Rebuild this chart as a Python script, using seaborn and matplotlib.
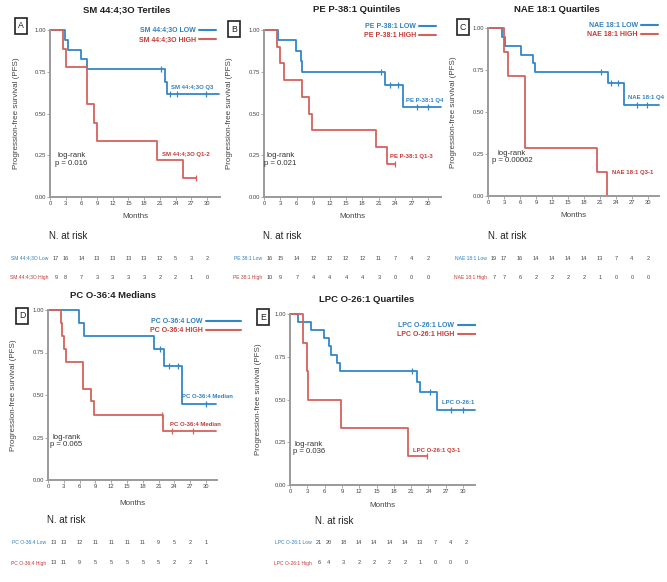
import numpy as np
import pandas as pd
import matplotlib
matplotlib.use("Agg")
import matplotlib.pyplot as plt
import seaborn as sns
from matplotlib.lines import Line2D
from matplotlib.patches import Rectangle

# ---------------- data ----------------
A_title = "SM 44:4;3O Tertiles"
A_low_t = [0, 2.9, 3.5, 5.9, 7.1, 22.0, 22.4, 32.3]
A_low_s = [1, 0.941, 0.882, 0.824, 0.765, 0.69, 0.614, 0.614]
A_low_c = [21.3, 22.9, 24.2, 29.9]
A_high_t = [0, 2.5, 3.0, 7.0, 8.5, 8.9, 20.4, 25.4, 28.0]
A_high_s = [1, 0.889, 0.778, 0.556, 0.444, 0.333, 0.222, 0.111, 0.111]
A_high_c = [28.0]
A_legend = ["SM 44:4;3O LOW", "SM 44:4;3O HIGH"]
A_ends = ["SM 44:4;3O Q3", "SM 44:4;3O Q1-2"]
A_p = "log-rank\np = 0.016"
A_risk_names = ["SM 44:4;3O Low", "SM 44:4;3O High"]
A_risk_low = [17, 16, 14, 13, 13, 13, 13, 12, 5, 3, 2]
A_risk_high = [9, 8, 7, 3, 3, 3, 3, 2, 2, 1, 0]

B_title = "PE P-38:1 Quintiles"
B_low_t = [0, 2.6, 5.9, 6.7, 6.95, 22.1, 25.5, 32.4]
B_low_s = [1, 0.9375, 0.875, 0.8125, 0.75, 0.67, 0.536, 0.536]
B_low_c = [21.5, 23.0, 24.5, 28.0, 30.0]
B_high_t = [0, 2.4, 3.0, 3.65, 7.0, 8.2, 8.8, 20.5, 22.5, 23.9]
B_high_s = [1, 0.9, 0.8, 0.7, 0.6, 0.5, 0.4, 0.3, 0.2, 0.2]
B_high_c = [23.9]
B_legend = ["PE P-38:1 LOW", "PE P-38:1 HIGH"]
B_ends = ["PE P-38:1 Q4", "PE P-38:1 Q1-3"]
B_p = "log-rank\np = 0.021"
B_risk_names = ["PE 38:1 Low", "PE 38:1 High"]
B_risk_low = [16, 15, 14, 12, 12, 12, 12, 11, 7, 4, 2]
B_risk_high = [10, 9, 7, 4, 4, 4, 4, 3, 0, 0, 0]

C_title = "NAE 18:1 Quartiles"
C_low_t = [0, 2.6, 3.1, 6.15, 8.5, 8.9, 22.6, 25.5, 32.1]
C_low_s = [1, 0.947, 0.895, 0.842, 0.789, 0.737, 0.67, 0.54, 0.54]
C_low_c = [21.2, 23.1, 24.4, 27.9, 29.9]
C_high_t = [0, 3.0, 3.8, 6.9, 20.5, 22.4]
C_high_s = [1, 0.857, 0.714, 0.286, 0.143, 0.0]
C_high_c = []
C_legend = ["NAE 18:1 LOW", "NAE 18:1 HIGH"]
C_ends = ["NAE 18:1 Q4", "NAE 18:1 Q3-1"]
C_p = "log-rank\np = 0.00062"
C_risk_names = ["NAE 18:1 Low", "NAE 18:1 High"]
C_risk_low = [19, 17, 16, 14, 14, 14, 14, 13, 7, 4, 2]
C_risk_high = [7, 7, 6, 2, 2, 2, 2, 1, 0, 0, 0]

D_title = "PC O-36:4 Medians"
D_low_t = [0, 5.8, 6.8, 20.1, 22.0, 25.4, 32.0]
D_low_s = [1, 0.923, 0.846, 0.769, 0.67, 0.447, 0.447]
D_low_c = [21.3, 23.0, 24.6, 30.0]
D_high_t = [0, 2.4, 2.7, 3.0, 3.5, 6.7, 8.1, 8.7, 21.9, 32.0]
D_high_s = [1, 0.923, 0.846, 0.769, 0.692, 0.538, 0.462, 0.385, 0.288, 0.288]
D_high_c = [21.6, 23.5, 27.5]
D_legend = ["PC O-36:4 LOW", "PC O-36:4 HIGH"]
D_ends = ["PC O-36:4 Median", "PC O-36:4 Median"]
D_p = "log-rank\np = 0.065"
D_risk_names = ["PC O-36:4 Low", "PC O-36:4 High"]
D_risk_low = [13, 13, 12, 11, 11, 11, 11, 9, 5, 2, 1]
D_risk_high = [13, 11, 9, 5, 5, 5, 5, 5, 2, 2, 1]

E_title = "LPC O-26:1 Quartiles"
E_low_t = [0, 1.3, 3.65, 5.9, 6.8, 7.1, 8.2, 8.6, 22.0, 22.6, 25.5, 32.1]
E_low_s = [1, 0.952, 0.905, 0.857, 0.81, 0.762, 0.714, 0.667, 0.604, 0.545, 0.44, 0.44]
E_low_c = [21.1, 24.3, 27.9, 30.0]
E_high_t = [0, 2.3, 2.9, 3.2, 8.8, 20.4, 23.7]
E_high_s = [1, 0.833, 0.667, 0.5, 0.333, 0.167, 0.167]
E_high_c = [23.7]
E_legend = ["LPC O-26:1 LOW", "LPC O-26:1 HIGH"]
E_ends = ["LPC O-26:1 Q4", "LPC O-26:1 Q3-1"]
E_p = "log-rank\np = 0.036"
E_risk_names = ["LPC O-26:1 Low", "LPC O-26:1 High"]
E_risk_low = [21, 20, 18, 14, 14, 14, 14, 13, 7, 4, 2]
E_risk_high = [6, 4, 3, 2, 2, 2, 2, 1, 0, 0, 0]

risk_months = [0, 3, 6, 9, 12, 15, 18, 21, 24, 27, 30]
x_ticks = [0, 3, 6, 9, 12, 15, 18, 21, 24, 27, 30]
y_ticks = [0.0, 0.25, 0.5, 0.75, 1.0]
letters = ["A", "B", "C", "D", "E"]

# ---------------- style ----------------
sns.set_theme(style="white")
plt.rcParams["font.family"] = ["Liberation Sans Narrow", "DejaVu Sans Condensed",
                               "Liberation Sans", "DejaVu Sans"]

W, H = 667, 582
fig = plt.figure(figsize=(W / 100, H / 100), dpi=100)

BLUE = "#3287c8"
RED = "#d4625c"
BLUE_T = "#2f80c0"
RED_T = "#c43a36"
GRAY = "#9a9a9a"


def fbox(l, t, r, b):
    return [l / W, 1 - b / H, (r - l) / W, (b - t) / H]


panels = [
    dict(title=A_title, low=(A_low_t, A_low_s, A_low_c), high=(A_high_t, A_high_s, A_high_c),
         legend=A_legend, ends=A_ends, p=A_p, rn=A_risk_names, rl=A_risk_low, rh=A_risk_high),
    dict(title=B_title, low=(B_low_t, B_low_s, B_low_c), high=(B_high_t, B_high_s, B_high_c),
         legend=B_legend, ends=B_ends, p=B_p, rn=B_risk_names, rl=B_risk_low, rh=B_risk_high),
    dict(title=C_title, low=(C_low_t, C_low_s, C_low_c), high=(C_high_t, C_high_s, C_high_c),
         legend=C_legend, ends=C_ends, p=C_p, rn=C_risk_names, rl=C_risk_low, rh=C_risk_high),
    dict(title=D_title, low=(D_low_t, D_low_s, D_low_c), high=(D_high_t, D_high_s, D_high_c),
         legend=D_legend, ends=D_ends, p=D_p, rn=D_risk_names, rl=D_risk_low, rh=D_risk_high),
    dict(title=E_title, low=(E_low_t, E_low_s, E_low_c), high=(E_high_t, E_high_s, E_high_c),
         legend=E_legend, ends=E_ends, p=E_p, rn=E_risk_names, rl=E_risk_low, rh=E_risk_high),
]

# layout (pixels): axes box, month range, title, letter box, legend, labels, risk table
layouts = [
    dict(box=(50, 30, 220, 197), xmax=32.5, title=(127, 10), letter=(21, 26), leg=(216, 27, 2.4),
         endlow=(23.1, 0.656), endhigh=(21.5, 0.256), pval=(4.1, 0.225), ylab=20, months=213,
         r0=50, ppm=5.23, rlow=258, rhigh=277, nrisk=(49, 236)),
    dict(box=(264, 30, 441, 197), xmax=32.4, title=(357, 10), letter=(234, 29), leg=(436, 23, 2.4),
         endlow=(26.0, 0.576), endhigh=(23.1, 0.244), pval=(3.0, 0.225), ylab=233, months=213,
         r0=264, ppm=5.47, rlow=258, rhigh=277, nrisk=(263, 236)),
    dict(box=(488, 28, 659, 196), xmax=32.1, title=(557, 10), letter=(463, 27), leg=(658, 22, 2.4),
         endlow=(26.2, 0.586), endhigh=(23.2, 0.14), pval=(4.5, 0.232), ylab=457, months=212,
         r0=488, ppm=5.33, rlow=258, rhigh=277, nrisk=(488, 236)),
    dict(box=(48, 310, 217, 480), xmax=32.1, title=(113, 296), letter=(22, 316), leg=(241, 318, 5.0),
         endlow=(25.5, 0.494), endhigh=(23.1, 0.324), pval=(3.5, 0.228), ylab=17, months=500,
         r0=48, ppm=5.27, rlow=543, rhigh=563, nrisk=(47, 520)),
    dict(box=(290, 314, 475, 485), xmax=32.06, title=(367, 299), letter=(263, 317), leg=(482, 322, 3.5),
         endlow=(26.3, 0.48), endhigh=(21.3, 0.2), pval=(3.3, 0.218), ylab=262, months=502,
         r0=313, ppm=5.1, rlow=543, rhigh=563, nrisk=(315, 521)),
]


def step_value(t, s, c):
    idx = np.searchsorted(np.asarray(t), c, side="right") - 1
    return np.asarray(s)[idx]


for k, (pn, lay) in enumerate(zip(panels, layouts)):
    l, t, r, b = lay["box"]
    ax = fig.add_axes(fbox(l, t, r, b))
    for (tt, ss, cc), col in ((pn["low"], BLUE), (pn["high"], RED)):
        df = pd.DataFrame({"Months": tt, "PFS": ss})
        sns.lineplot(data=df, x="Months", y="PFS", ax=ax, color=col, lw=1.3,
                     drawstyle="steps-post", estimator=None, sort=False, clip_on=False)
        if len(cc):
            dc = pd.DataFrame({"Months": cc, "PFS": step_value(tt, ss, cc)})
            sns.scatterplot(data=dc, x="Months", y="PFS", ax=ax, color=col, marker="|",
                            s=14, linewidth=0.9, clip_on=False, zorder=5)
    ax.set_xlim(0, lay["xmax"])
    ax.set_ylim(0, 1.0)
    ax.set_xticks(x_ticks)
    ax.set_yticks(y_ticks)
    ax.set_yticklabels([f"{v:.2f}" for v in y_ticks])
    for side in ("top", "right"):
        ax.spines[side].set_visible(False)
    for side in ("left", "bottom"):
        ax.spines[side].set_color(GRAY)
        ax.spines[side].set_linewidth(1.4)
    ax.tick_params(axis="both", labelsize=4.2, length=2, width=0.6, color=GRAY,
                   pad=1, labelcolor="#444444", left=True, bottom=True)
    ax.set_xlabel("Months", fontsize=5.8, color="#444444", labelpad=1)
    ax.xaxis.set_label_coords(0.5, -(lay["months"] - b) / (b - t))
    ax.set_ylabel("Progression-free survival (PFS)", fontsize=5.8, color="#444444")
    ax.yaxis.set_label_coords((lay["ylab"] - l) / (r - l), 0.5)
    ax.grid(False)

    # legend
    handles = [Line2D([], [], color=BLUE, lw=1.5), Line2D([], [], color=RED, lw=1.5)]
    lx, ly, hl = lay["leg"]
    leg = ax.legend(handles, pn["legend"], loc="upper right",
                    bbox_to_anchor=(lx / W, 1 - ly / H), bbox_transform=fig.transFigure,
                    frameon=False, markerfirst=False, prop=dict(size=5, weight="bold"),
                    handlelength=hl, handletextpad=0.5, labelspacing=0.35,
                    borderaxespad=0, borderpad=0)
    for txt, col in zip(leg.get_texts(), (BLUE_T, RED_T)):
        txt.set_color(col)

    # end-of-curve labels
    ax.text(*lay["endlow"], pn["ends"][0], color=BLUE_T, fontsize=4.3, weight="bold",
            ha="left", va="center", clip_on=False)
    ax.text(*lay["endhigh"], pn["ends"][1], color=RED_T, fontsize=4.3, weight="bold",
            ha="left", va="center", clip_on=False)
    ax.text(*lay["pval"], pn["p"], color="#333333", fontsize=5.6, ha="center",
            va="center", linespacing=1.05)

    # title and panel letter
    fig.text(lay["title"][0] / W, 1 - lay["title"][1] / H, pn["title"], fontsize=6.8,
             weight="bold", ha="center", va="center", color="#222222")
    fig.text(lay["letter"][0] / W, 1 - lay["letter"][1] / H, letters[k], fontsize=6.3,
             ha="center", va="center", color="#222222",
             bbox=dict(boxstyle="square,pad=0.35", fc="white", ec="#222222", lw=1.2))

    # risk table
    r0, ppm = lay["r0"], lay["ppm"]
    rax = fig.add_axes(fbox(r0, lay["rlow"] - 5, r0 + 32 * ppm, lay["rhigh"] + 5))
    rax.set_xlim(0, 32)
    rax.set_ylim(lay["rhigh"] + 5, lay["rlow"] - 5)
    rax.axis("off")
    for row, vals, col in ((lay["rlow"], pn["rl"], BLUE_T), (lay["rhigh"], pn["rh"], RED_T)):
        for i, (m, v) in enumerate(zip(risk_months, vals)):
            xm = m + (6.0 / ppm if i == 0 else 0)
            rax.text(xm, row, str(v), fontsize=4.0, ha="center", va="center",
                     color="#444444", clip_on=False)
    rax.text(-1.5 / ppm, lay["rlow"], pn["rn"][0], fontsize=3.6, ha="right", va="center",
             color=BLUE_T, clip_on=False)
    rax.text(-1.5 / ppm, lay["rhigh"], pn["rn"][1], fontsize=3.6, ha="right", va="center",
             color=RED_T, clip_on=False)
    fig.text(lay["nrisk"][0] / W, 1 - lay["nrisk"][1] / H, "N. at risk", fontsize=7,
             ha="left", va="center", color="#222222")

# the source image is cropped to the right of panel E
fig.add_artist(Rectangle((476 / W, 0), 1, (582 - 288) / H, transform=fig.transFigure,
                         facecolor="white", edgecolor="none", zorder=100))

fig.savefig("out.png", dpi=100, facecolor="white")
